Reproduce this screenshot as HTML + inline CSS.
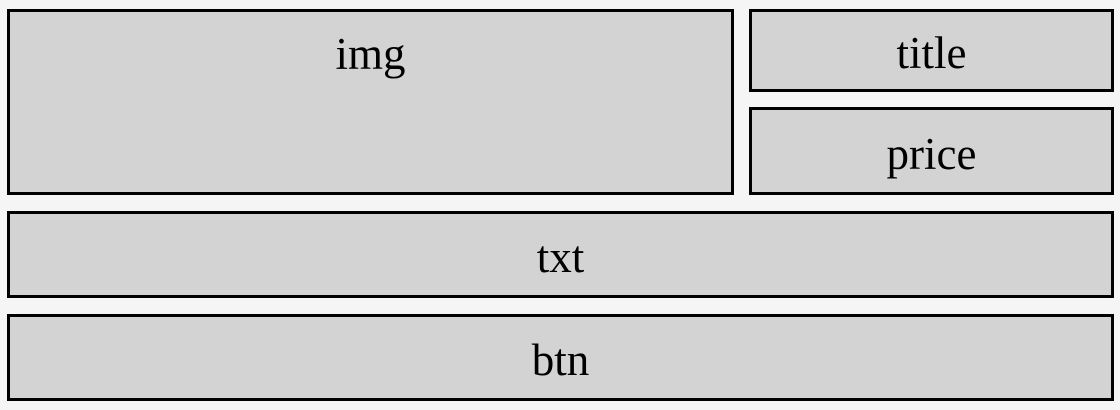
<!DOCTYPE html>
<html><head><style>
body{margin:0;width:1120px;height:410px;background:#f5f5f5;position:relative;overflow:hidden}
.b{position:absolute;box-sizing:border-box;border:3px solid #000;background:#d3d3d3;text-align:center;font-family:"Liberation Serif",serif;font-size:45px;line-height:46px;padding-top:19px;color:#000}
</style></head><body>
<div class="b" style="left:7px;top:9px;width:727px;height:186px">img</div>
<div class="b" style="left:749px;top:9px;width:365px;height:83px;padding-top:18px">title</div>
<div class="b" style="left:749px;top:107px;width:365px;height:88px;padding-top:21px">price</div>
<div class="b" style="left:7px;top:211px;width:1107px;height:87px;padding-top:20px">txt</div>
<div class="b" style="left:7px;top:314px;width:1107px;height:87px;padding-top:20px">btn</div>
</body></html>
